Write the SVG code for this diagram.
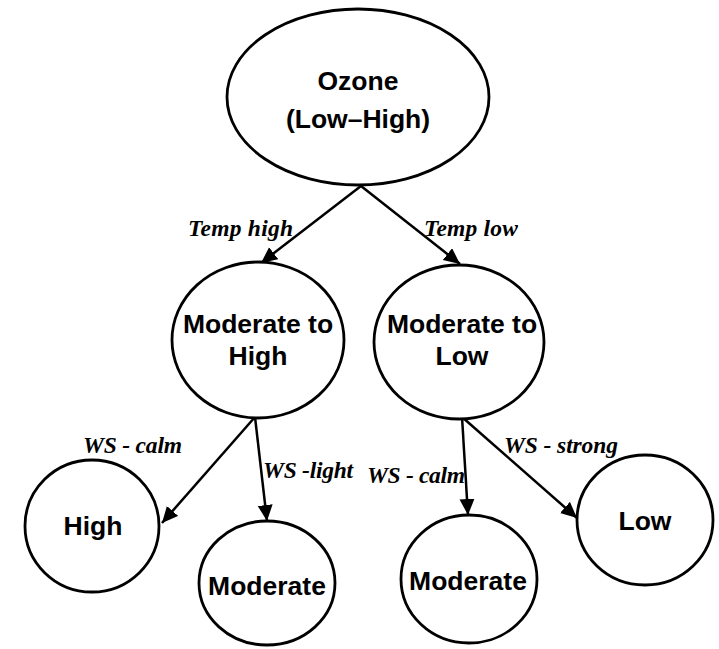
<svg xmlns="http://www.w3.org/2000/svg" width="719" height="649" viewBox="0 0 719 649">
<style>
.node ellipse{fill:#fff;stroke:#000;stroke-width:2.8}
.node text{font-family:"Liberation Sans",Arial,sans-serif;font-weight:bold;font-size:26.5px;text-anchor:middle;fill:#000}
.edge line{stroke:#000;stroke-width:2.5}
.lbl{font-family:"Liberation Serif","Times New Roman",serif;font-weight:bold;font-style:italic;font-size:23.5px;fill:#000}
</style>
<defs>
<marker id="ah" markerUnits="userSpaceOnUse" markerWidth="18" markerHeight="16" refX="16" refY="7.5" orient="auto">
<path d="M0,0 L16,7.5 L0,15 Z" fill="#000"/>
</marker>
</defs>
<rect width="719" height="649" fill="#fff"/>
<g id="connectors" class="edge">
<line x1="361" y1="186" x2="261" y2="263" marker-end="url(#ah)"/>
<line x1="361" y1="186" x2="460" y2="264" marker-end="url(#ah)"/>
<line x1="255" y1="417" x2="162" y2="523" marker-end="url(#ah)"/>
<line x1="255" y1="417" x2="267" y2="521" marker-end="url(#ah)"/>
<line x1="462" y1="417" x2="468" y2="515" marker-end="url(#ah)"/>
<line x1="462" y1="417" x2="577" y2="518" marker-end="url(#ah)"/>
</g>
<g id="labels">
<text class="lbl" x="188" y="236" textLength="105">Temp high</text>
<text class="lbl" x="424" y="236" textLength="94">Temp low</text>
<text class="lbl" x="83" y="453" textLength="99">WS - calm</text>
<text class="lbl" x="263" y="478" textLength="90">WS -light</text>
<text class="lbl" x="367" y="483" textLength="98">WS - calm</text>
<text class="lbl" x="504" y="453" textLength="114">WS - strong</text>
</g>
<g id="ozone" class="node">
<ellipse cx="358" cy="97" rx="131" ry="88"/>
<text x="358" y="90">Ozone</text>
<text x="358" y="128">(Low–High)</text>
</g>
<g id="mod-high" class="node">
<ellipse cx="258" cy="340" rx="86" ry="78"/>
<text x="258" y="333">Moderate to</text>
<text x="258" y="365">High</text>
</g>
<g id="mod-low" class="node">
<ellipse cx="459" cy="342" rx="85" ry="77"/>
<text x="462" y="333">Moderate to</text>
<text x="462" y="365">Low</text>
</g>
<g id="high" class="node">
<ellipse cx="92" cy="526" rx="67" ry="66"/>
<text x="93" y="535">High</text>
</g>
<g id="moderate-1" class="node">
<ellipse cx="267" cy="583" rx="68" ry="62"/>
<text x="267" y="595">Moderate</text>
</g>
<g id="moderate-2" class="node">
<ellipse cx="469" cy="579" rx="68" ry="64"/>
<text x="468" y="590">Moderate</text>
</g>
<g id="low" class="node">
<ellipse cx="645" cy="520" rx="68" ry="65"/>
<text x="645" y="530">Low</text>
</g>
</svg>
